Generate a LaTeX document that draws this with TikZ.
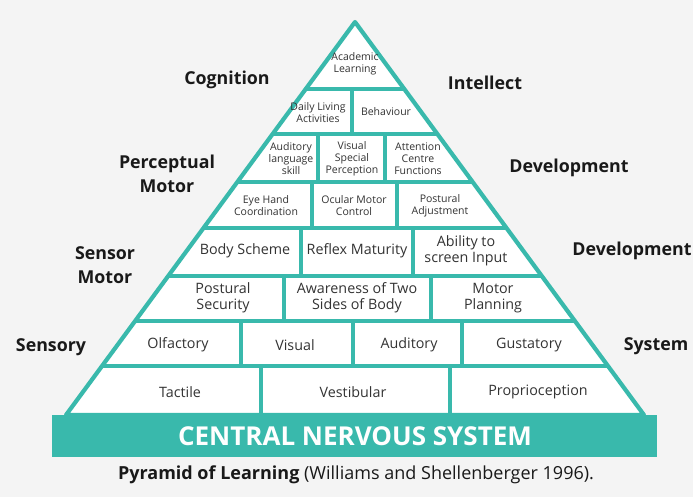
\documentclass[tikz,border=0pt]{standalone}
\usepackage{fontspec}
\setmainfont{Open Sans}
\definecolor{pyrteal}{HTML}{39B9AC}
\definecolor{bggray}{HTML}{F4F4F4}
\definecolor{celltext}{HTML}{333333}
\tikzset{
  pyrline/.style={draw=pyrteal, line width=4.2pt},
  bigcell/.style={text=celltext, align=center, font=\fontsize{14.3}{16}\selectfont},
  smallcell/.style={text=celltext, align=center, font=\fontsize{10.5}{12}\selectfont},
  sidelabel/.style={text=black!90, align=center, font=\fontsize{17.8}{24}\selectfont\bfseries}
}

\begin{document}
\begin{tikzpicture}[x=1pt,y=-1pt]
% Page and background first
\fill[bggray] (0,0) rectangle (693,497);
\useasboundingbox (0,0) rectangle (693,497);
\coordinate (apex) at (355,22);
\coordinate (baseL) at (66,415);
\coordinate (baseR) at (644,415);
\fill[white] (apex) -- (baseL) -- (baseR) -- cycle;
% Then the rows and the walls between the cells, cut off by the triangle
\begin{scope}
\clip (apex) -- (baseL) -- (baseR) -- cycle;
\foreach \y in {89,134,182,228,276,321,366}
  \draw[pyrline] (40,\y) -- (680,\y);
\foreach \x/\ya/\yb in {352/89/134, 318/134/182, 385/134/182, 312/182/228, 397/182/228,
    301/228/276, 413/228/276, 284/276/321, 431/276/321,
    241/321/366, 353/321/366, 462/321/366, 261/366/415, 450/366/415}
  \draw[pyrline] (\x,\ya) -- (\x,\yb);
\end{scope}
\draw[pyrline, line join=round] (apex) -- (baseL) -- (baseR) -- cycle;
% The base
\fill[pyrteal] (52,415) rectangle (657,457);
\node[text=white, font=\fontsize{26}{28}\selectfont\bfseries] (cns) at (355,436) {CENTRAL NERVOUS SYSTEM};
% Cells, from the top down
\node[smallcell] (academic) at (355,64) {Academic\\Learning};
\node[smallcell] (daily) at (318,113) {Daily Living\\Activities};
\node[smallcell] (behaviour) at (386,112) {Behaviour};
\node[smallcell] (audlang) at (291,159) {Auditory\\language\\skill};
\node[smallcell] (visspec) at (352,159) {Visual\\Special\\Perception};
\node[smallcell] (attention) at (418,159) {Attention\\Centre\\Functions};
\node[smallcell] (eyehand) at (266,206) {Eye Hand\\Coordination};
\node[smallcell] (ocular) at (354,206) {Ocular Motor\\Control};
\node[smallcell] (postadj) at (440,206) {Postural\\Adjustment};
\node[bigcell] (body) at (245,251) {Body Scheme};
\node[bigcell] (reflex) at (357,251) {Reflex Maturity};
\node[bigcell] (ability) at (466,251) {Ability to\\screen Input};
\node[bigcell] (postsec) at (223,298) {Postural\\Security};
\node[bigcell] (awareness) at (357,298) {Awareness of Two\\Sides of Body};
\node[bigcell] (motorplan) at (493,298) {Motor\\Planning};
\node[bigcell] (olfactory) at (178,345) {Olfactory};
\node[bigcell] (visual) at (295,345) {Visual};
\node[bigcell] (auditory) at (409,345) {Auditory};
\node[bigcell] (gustatory) at (529,345) {Gustatory};
\node[bigcell] (tactile) at (180,392) {Tactile};
\node[bigcell] (vestibular) at (353,392) {Vestibular};
\node[bigcell] (proprio) at (538,392) {Proprioception};
% Labels down both sides
\node[sidelabel] (cognition) at (227,80) {Cognition};
\node[sidelabel] (intellect) at (485,83) {Intellect};
\node[sidelabel] (percmotor) at (167,174) {Perceptual\\Motor};
\node[sidelabel] (devel1) at (569,168) {Development};
\node[sidelabel] (sensmotor) at (105,265) {Sensor\\Motor};
\node[sidelabel] (devel2) at (632,251) {Development};
\node[sidelabel] (sensory) at (51,347) {Sensory};
\node[sidelabel] (system) at (656,346) {System};
% Caption under the base
\node[text=black!90, font=\fontsize{18}{20}\selectfont] (caption) at (356,475)
  {\textbf{Pyramid of Learning} (Williams and Shellenberger 1996).};
\end{tikzpicture}
\end{document}
